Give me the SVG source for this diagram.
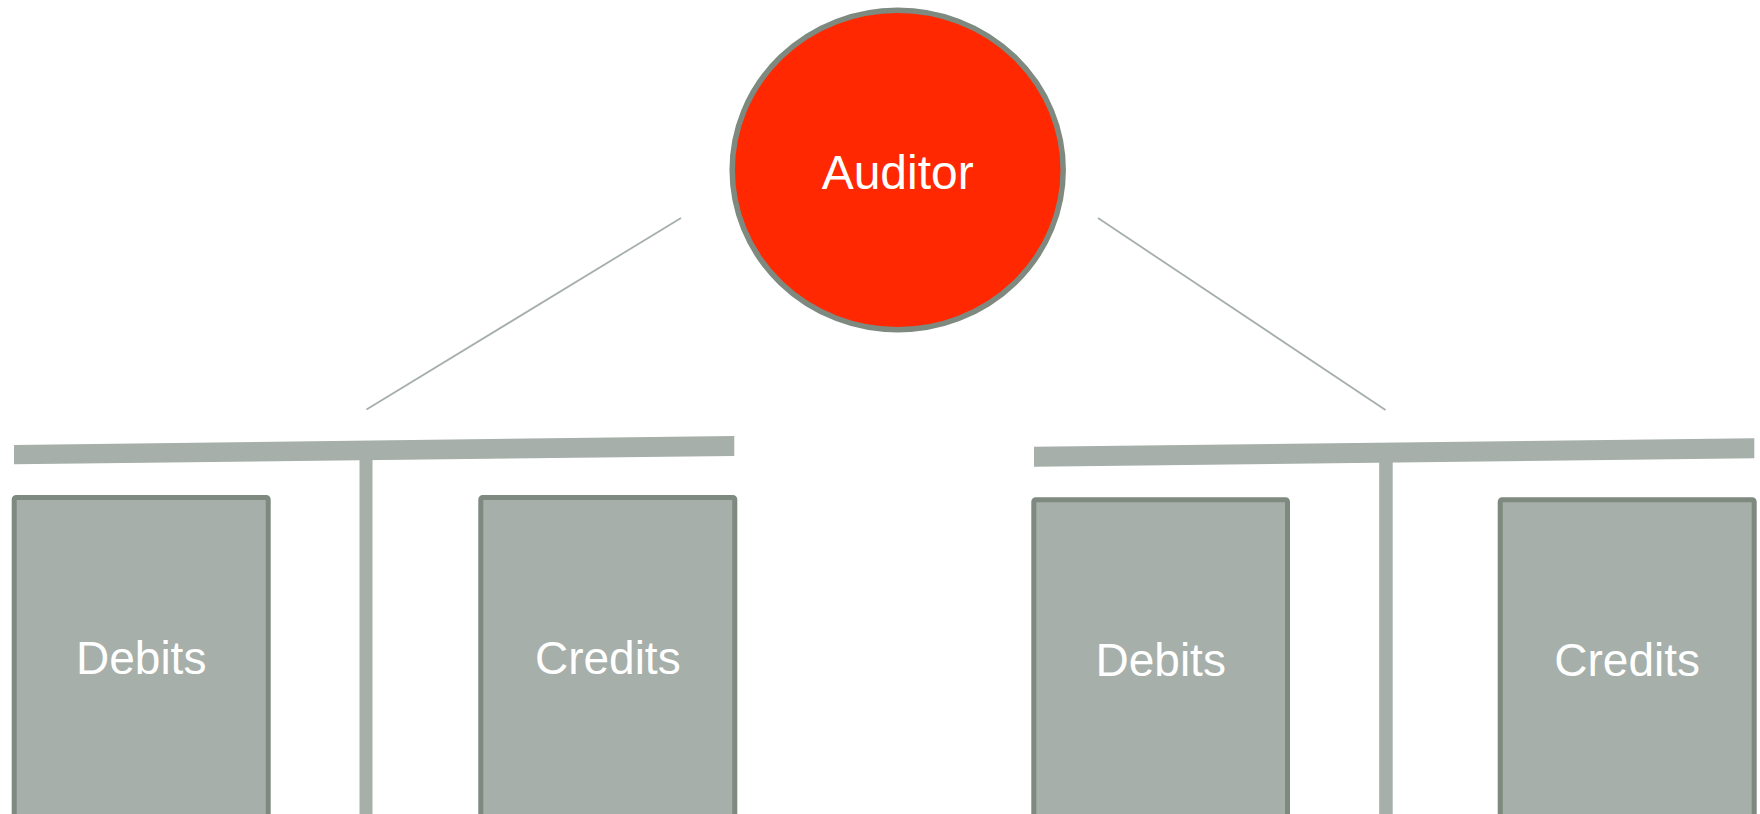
<svg xmlns="http://www.w3.org/2000/svg" width="1760" height="814" viewBox="0 0 1760 814">
  <style>
    .beam { fill: #a6afa9; }
    .post { fill: #a6afa9; }
    .box { fill: #a6afa9; stroke: #7e897f; stroke-width: 5; }
    .link { stroke: #a6afa9; stroke-width: 1.8; fill: none; }
    .label { font-family: "Liberation Sans", Arial, sans-serif; fill: #ffffff; text-anchor: middle; }
  </style>
  <rect width="1760" height="814" fill="#ffffff"/>

  <!-- connectors from the auditor down to each ledger -->
  <g id="connectors">
    <line class="link" x1="681" y1="218" x2="366.5" y2="409.5"/>
    <line class="link" x1="1098" y1="218" x2="1385.5" y2="410"/>
  </g>

  <!-- left ledger: T-account -->
  <g id="ledger-left">
    <polygon class="beam" points="14,445 734.3,436 734.3,456 14,464.3"/>
    <rect class="post" x="359.5" y="458" width="13" height="360"/>
  </g>
  <g id="debits-left">
    <rect class="box" x="14.2" y="497.5" width="254" height="330" rx="2"/>
    <text class="label" x="141.2" y="673.5" font-size="46">Debits</text>
  </g>
  <g id="credits-left">
    <rect class="box" x="480.8" y="497.5" width="254" height="330" rx="2"/>
    <text class="label" x="607.8" y="673.5" font-size="46">Credits</text>
  </g>

  <!-- right ledger: T-account -->
  <g id="ledger-right">
    <polygon class="beam" points="1034,446.7 1754.3,438.3 1754.3,458.3 1034,466.7"/>
    <rect class="post" x="1379.2" y="460" width="13.5" height="360"/>
  </g>
  <g id="debits-right">
    <rect class="box" x="1033.8" y="499.8" width="253.7" height="330" rx="2"/>
    <text class="label" x="1160.7" y="675.5" font-size="46">Debits</text>
  </g>
  <g id="credits-right">
    <rect class="box" x="1500.2" y="499.8" width="254" height="330" rx="2"/>
    <text class="label" x="1627.2" y="675.5" font-size="46">Credits</text>
  </g>

  <!-- auditor -->
  <g id="auditor">
    <ellipse cx="897.7" cy="170" rx="165.5" ry="159.7" fill="#ff2800" stroke="#7e897f" stroke-width="5.5"/>
    <text class="label" x="897.7" y="189.3" font-size="48">Auditor</text>
  </g>
</svg>
